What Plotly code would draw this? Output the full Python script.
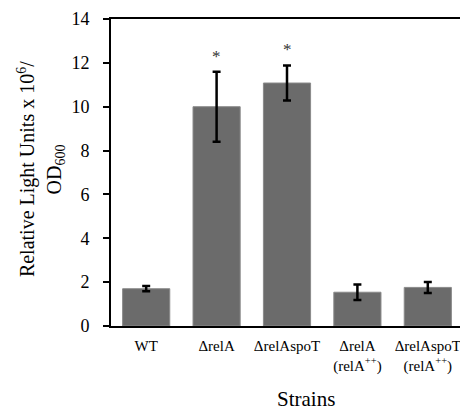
import plotly.graph_objects as go

strains = ["WT", "ΔrelA", "ΔrelAspoT", "ΔrelA<br>(relA<sup>++</sup>)", "ΔrelAspoT<br>(relA<sup>++</sup>)"]
values = [1.70, 10.0, 11.08, 1.54, 1.76]
errors = [0.12, 1.6, 0.8, 0.35, 0.25]
star_labels = ["", "*", "*", "", ""]
star_y = [None, 12.3, 12.62, None, None]
y_ticks = [0, 2, 4, 6, 8, 10, 12, 14]
y_title_lines = ["Relative Light Units x 10<sup>6</sup>/", "OD<sub>600</sub>"]
x_title = "Strains"

FONT = "Liberation Serif"

fig = go.Figure()
fig.add_trace(go.Bar(
    x=strains, y=values,
    marker=dict(color="#6b6b6b", line=dict(color="#8a8a8a", width=1)),
    error_y=dict(type="data", array=errors, color="black", thickness=2.5, width=4),
    width=0.67,
))
for s, lab, yy in zip(strains, star_labels, star_y):
    if lab:
        fig.add_annotation(x=s, y=yy, text=lab, showarrow=False,
                           font=dict(family=FONT, size=17, color="#333"), yanchor="middle")

# two-line rotated y-axis title
for txt, xp in zip(y_title_lines, [-0.2415, -0.158]):
    fig.add_annotation(xref="paper", yref="paper", x=xp, y=0.511, text=txt,
                       textangle=-90, showarrow=False, xanchor="center", yanchor="middle",
                       font=dict(family=FONT, size=20, color="black"))

# x-axis title
fig.add_annotation(xref="paper", yref="paper", x=0.554, y=-0.238, text=x_title,
                   showarrow=False, xanchor="center", yanchor="middle",
                   font=dict(family=FONT, size=21, color="black"))

fig.update_layout(
    width=460, height=403,
    margin=dict(l=103, r=5, t=11, b=85, autoexpand=False),
    plot_bgcolor="white", paper_bgcolor="white",
    showlegend=False,
    font=dict(family=FONT, color="black"),
)
fig.update_xaxes(
    showline=True, linecolor="black", linewidth=2, mirror=True,
    ticks="", tickfont=dict(family=FONT, size=15), automargin=False,
    ticklabelstandoff=5,
)
fig.update_yaxes(
    range=[0, 14], tickvals=y_ticks, automargin=False,
    showline=True, linecolor="black", linewidth=2, mirror=True,
    ticks="outside", ticklen=6, tickwidth=2, tickcolor="black",
    showgrid=False, zeroline=False,
    tickfont=dict(family=FONT, size=18), ticklabelstandoff=10,
)
fig.write_html("out.html")
